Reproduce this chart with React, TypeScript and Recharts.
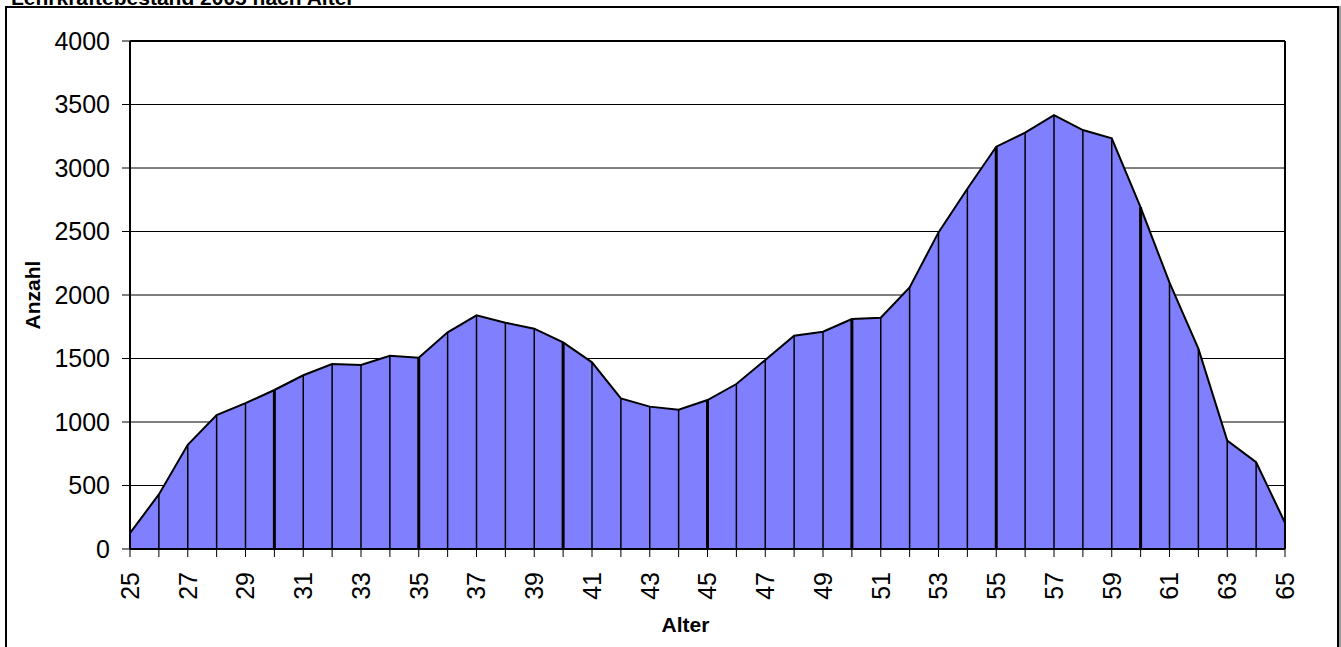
import { ComposedChart, Area, Line, ErrorBar, XAxis, YAxis, CartesianGrid, ReferenceLine } from 'recharts';

const ages = [
  25, 26, 27, 28, 29, 30, 31, 32, 33, 34, 35, 36, 37, 38, 39, 40, 41, 42, 43, 44,
  45, 46, 47, 48, 49, 50, 51, 52, 53, 54, 55, 56, 57, 58, 59, 60, 61, 62, 63, 64, 65,
];

const counts = [
  125, 430, 820, 1055, 1148, 1252, 1368, 1457, 1449, 1522, 1506, 1706, 1840, 1782, 1735, 1627, 1470, 1186, 1121, 1097,
  1173, 1299, 1488, 1680, 1711, 1811, 1821, 2060, 2493, 2837, 3168, 3278, 3417, 3299, 3234, 2690, 2097, 1577, 853, 683, 207,
];

const yTicks = [0, 500, 1000, 1500, 2000, 2500, 3000, 3500, 4000];
const xLabelAges = [25, 27, 29, 31, 33, 35, 37, 39, 41, 43, 45, 47, 49, 51, 53, 55, 57, 59, 61, 63, 65];
const thickAges = [30, 35, 40, 45, 50, 55, 60];

const data = ages.map((age, i) => ({
  age,
  value: counts[i],
  drop: [counts[i], 0],
  dropThick: thickAges.includes(age) ? [counts[i], 0] : null,
}));

const FONT = '"Liberation Sans", Arial, sans-serif';

const XTick = (props: any) => {
  const { x, y, payload } = props;
  if (!xLabelAges.includes(payload.value)) return null;
  return (
    <text
      x={x}
      y={y}
      transform={`rotate(-90, ${x}, ${y})`}
      textAnchor="end"
      dy="0.35em"
      fontSize={25}
      fontFamily={FONT}
      fill="#000"
    >
      {payload.value}
    </text>
  );
};

const YTitle = (props: any) => {
  const { viewBox } = props;
  const x = viewBox.x + 33;
  const y = viewBox.y + viewBox.height / 2;
  return (
    <text
      x={x}
      y={y}
      transform={`rotate(-90, ${x}, ${y})`}
      textAnchor="middle"
      dy="0.35em"
      fontSize={21}
      fontWeight="bold"
      fontFamily={FONT}
      fill="#000"
    >
      Anzahl
    </text>
  );
};

const XTitle = (props: any) => {
  const { viewBox } = props;
  return (
    <text
      x={viewBox.x + viewBox.width / 2 - 22}
      y={viewBox.y + 83}
      textAnchor="middle"
      fontSize={21}
      fontWeight="bold"
      fontFamily={FONT}
      fill="#000"
    >
      Alter
    </text>
  );
};

const App = () => {
  return (
    <div style={{ position: 'absolute', left: 0, top: 0, width: 1341, height: 647, overflow: 'hidden', background: '#fff' }}>
      <div
        style={{
          position: 'absolute',
          left: 5,
          top: 6,
          width: 1330,
          height: 700,
          border: '2px solid #000',
          boxShadow: '2px 0 0 #999',
        }}
      />
      <div
        style={{
          position: 'absolute',
          left: 11,
          top: -13,
          fontFamily: FONT,
          fontWeight: 'bold',
          fontSize: 21,
          lineHeight: '21px',
          whiteSpace: 'nowrap',
        }}
      >
        Lehrkräftebestand 2005 nach Alter
      </div>
      <div style={{ position: 'absolute', left: 0, top: 0 }}>
        <ComposedChart width={1341} height={647} data={data} margin={{ top: 41, right: 56, bottom: 0, left: 0 }}>
          <CartesianGrid horizontal vertical={false} stroke="#000" strokeWidth={1} />
          <XAxis
            dataKey="age"
            type="number"
            domain={[25, 65]}
            ticks={ages}
            interval={0}
            height={98}
            tick={<XTick />}
            tickSize={8}
            tickMargin={15}
            axisLine={{ stroke: '#000', strokeWidth: 2 }}
            tickLine={{ stroke: '#000', strokeWidth: 1 }}
            label={<XTitle />}
          />
          <YAxis
            domain={[0, 4000]}
            ticks={yTicks}
            interval={0}
            width={130}
            tickSize={8}
            tickMargin={12}
            tick={{ fontSize: 25, fontFamily: FONT, fill: '#000' }}
            axisLine={{ stroke: '#000', strokeWidth: 2 }}
            tickLine={{ stroke: '#000', strokeWidth: 1 }}
            label={<YTitle />}
          />
          <Area
            dataKey="value"
            type="linear"
            fill="#8080FF"
            fillOpacity={1}
            stroke="#000"
            strokeWidth={2}
            isAnimationActive={false}
          />
          <Line dataKey="value" stroke="none" dot={false} activeDot={false} isAnimationActive={false}>
            <ErrorBar dataKey="drop" width={0} stroke="#000" strokeWidth={1.5} direction="y" isAnimationActive={false} />
          </Line>
          <Line dataKey="value" stroke="none" dot={false} activeDot={false} isAnimationActive={false}>
            <ErrorBar dataKey="dropThick" width={0} stroke="#000" strokeWidth={3} direction="y" isAnimationActive={false} />
          </Line>
          <ReferenceLine x={65} stroke="#000" strokeWidth={2} />
          <ReferenceLine y={4000} stroke="#000" strokeWidth={2} />
        </ComposedChart>
      </div>
    </div>
  );
};

export default App;
